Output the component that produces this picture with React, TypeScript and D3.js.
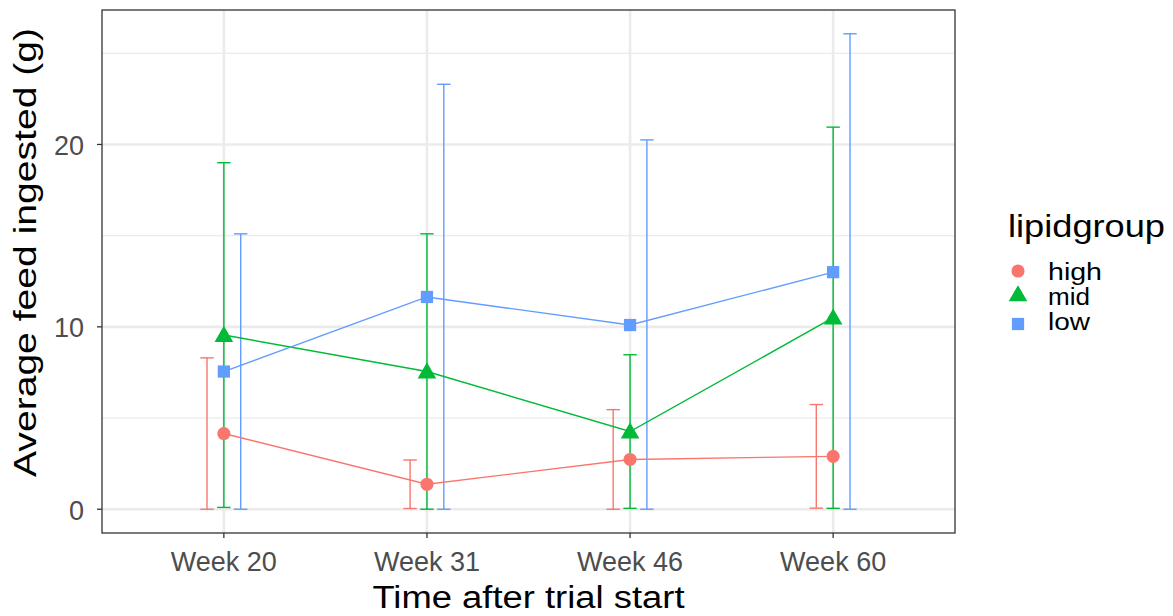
import React from "react";
import * as d3 from "d3";

const weeks = ["Week 20", "Week 31", "Week 46", "Week 60"];
const groups = ["high", "mid", "low"];
const colors = ["#F8766D", "#00BA38", "#619CFF"];
const highMean = [4.15, 1.37, 2.73, 2.9];
const highUpper = [8.3, 2.7, 5.46, 5.74];
const midMean = [9.55, 7.55, 4.26, 10.5];
const midUpper = [19.0, 15.1, 8.47, 20.95];
const lowMean = [7.55, 11.64, 10.1, 13.0];
const lowUpper = [15.1, 23.3, 20.25, 26.07];
const yTicks = [0, 10, 20];
const yMinor = [5, 15, 25];

const means = [highMean, midMean, lowMean];
const uppers = [highUpper, midUpper, lowUpper];
const dodge = [-0.083, 0, 0.083];

const W = 1173;
const H = 616;
const left = 102;
const right = 955;
const top = 10;
const bottom = 533;

export default function App() {
  const x = d3.scaleLinear().domain([0.4, 4.6]).range([left, right]);
  const y = d3.scaleLinear().domain([-1.3035, 27.3735]).range([bottom, top]);
  const line = d3
    .line<number>()
    .x((_, i) => x(i + 1))
    .y((d) => y(d));
  const sym = [d3.symbolCircle, d3.symbolTriangle, d3.symbolSquare];
  const symSize = [135, 150, 150];
  const shape = (g: number) => d3.symbol(sym[g], symSize[g])() as string;
  const font = "Liberation Sans, Arial, Helvetica, sans-serif";
  const legendSym = [271, 296, 324];
  const legendBase = [280, 305, 330];
  const legendLen = [54, 42, 42];

  return (
    <svg width={W} height={H} style={{ position: "absolute", left: 0, top: 0 }} fontFamily={font}>
      <rect x={0} y={0} width={W} height={H} fill="#fff" />
      <defs>
        <clipPath id="panel">
          <rect x={left} y={top} width={right - left} height={bottom - top} />
        </clipPath>
      </defs>
      <g clipPath="url(#panel)">
        {yMinor.map((v) => (
          <line key={"mn" + v} x1={left} x2={right} y1={y(v)} y2={y(v)} stroke="#ebebeb" strokeWidth={1.3} />
        ))}
        {yTicks.map((v) => (
          <line key={"mj" + v} x1={left} x2={right} y1={y(v)} y2={y(v)} stroke="#ebebeb" strokeWidth={2.6} />
        ))}
        {weeks.map((w, i) => (
          <line key={"vx" + w} x1={x(i + 1)} x2={x(i + 1)} y1={top} y2={bottom} stroke="#ebebeb" strokeWidth={2.6} />
        ))}
        {groups.map((g, gi) =>
          weeks.map((w, i) => {
            const cx = x(i + 1 + dodge[gi]);
            const lo = Math.max(0, means[gi][i] - (uppers[gi][i] - means[gi][i]));
            return (
              <g key={g + w} stroke={colors[gi]} strokeWidth={1.4} fill="none">
                <line x1={cx} x2={cx} y1={y(lo)} y2={y(uppers[gi][i])} />
                <line x1={cx - 6.7} x2={cx + 6.7} y1={y(uppers[gi][i])} y2={y(uppers[gi][i])} />
                <line x1={cx - 6.7} x2={cx + 6.7} y1={y(lo)} y2={y(lo)} />
              </g>
            );
          })
        )}
        {groups.map((g, gi) => (
          <path key={"ln" + g} d={line(means[gi]) as string} fill="none" stroke={colors[gi]} strokeWidth={1.4} />
        ))}
        {groups.map((g, gi) =>
          means[gi].map((v, i) => (
            <path
              key={"pt" + g + i}
              d={shape(gi)}
              transform={`translate(${x(i + 1)},${y(v) + (gi === 1 ? 1.5 : 0)})`}
              fill={colors[gi]}
            />
          ))
        )}
      </g>
      <rect x={left} y={top} width={right - left} height={bottom - top} fill="none" stroke="#333" strokeWidth={1.3} />
      {yTicks.map((v) => (
        <g key={"yt" + v}>
          <line x1={left - 5} x2={left} y1={y(v)} y2={y(v)} stroke="#333" strokeWidth={1.3} />
          <text x={84} y={y(v) + 10.5} textAnchor="end" fontSize={27} fill="#4d4d4d">
            {v}
          </text>
        </g>
      ))}
      {weeks.map((w, i) => (
        <g key={"xt" + w}>
          <line x1={x(i + 1)} x2={x(i + 1)} y1={bottom} y2={bottom + 5} stroke="#333" strokeWidth={1.3} />
          <text x={x(i + 1)} y={571} textAnchor="middle" fontSize={27} fill="#4d4d4d">
            {w}
          </text>
        </g>
      ))}
      <text
        x={(left + right) / 2 - 156}
        y={608}
        fontSize={31}
        fill="#000"
        textLength={312}
        lengthAdjust="spacingAndGlyphs"
      >
        Time after trial start
      </text>
      <text
        transform={`translate(36,477) rotate(-90)`}
        fontSize={32}
        fill="#000"
        textLength={449}
        lengthAdjust="spacingAndGlyphs"
      >
        Average feed ingested (g)
      </text>
      <text x={1008} y={237} fontSize={32} fill="#000" textLength={157} lengthAdjust="spacingAndGlyphs">
        lipidgroup
      </text>
      {groups.map((g, gi) => (
        <g key={"lg" + g}>
          <path d={shape(gi)} transform={`translate(1018,${legendSym[gi]})`} fill={colors[gi]} />
          <text
            x={1048}
            y={legendBase[gi]}
            fontSize={23.5}
            fill="#000"
            textLength={legendLen[gi]}
            lengthAdjust="spacingAndGlyphs"
          >
            {g}
          </text>
        </g>
      ))}
    </svg>
  );
}
